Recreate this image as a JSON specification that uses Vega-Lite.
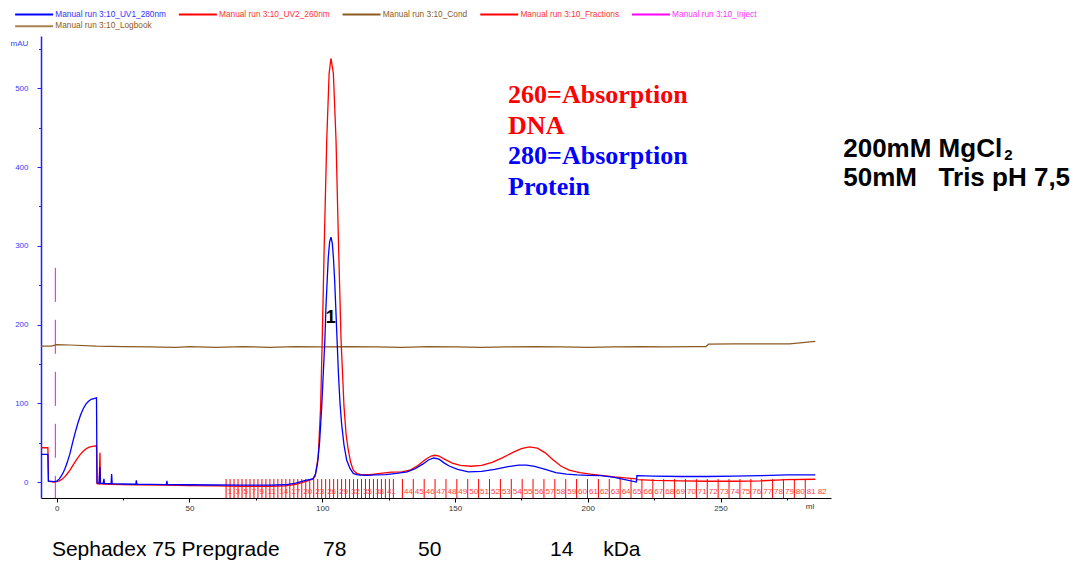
{
  "$schema": "https://vega.github.io/schema/vega-lite/v6.json",
  "width": 790,
  "height": 462,
  "autosize": {"type": "none"},
  "padding": {"left": 41, "top": 36, "right": 250, "bottom": 65},
  "config": {"view": {"stroke": null}, "font": "Liberation Sans",
    "legend": {"title": null, "orient": "none", "legendX": -30, "legendY": -26, "direction": "horizontal", "columns": 5, "symbolType": "M0,0H38", "symbolSize": 4, "symbolStrokeWidth": 2, "labelFontSize": 8.3, "labelFont": "Liberation Sans", "labelOffset": 36, "labelLimit": 300, "columnPadding": 8.7, "rowPadding": 2}
  },
  "datasets": {
    "curves": [
      {"s":"UV1_280nm","x":-5.9,"y":35},{"s":"UV1_280nm","x":-3.3,"y":35},{"s":"UV1_280nm","x":-3.1,"y":1},{"s":"UV1_280nm","x":-1,"y":0.5},{"s":"UV1_280nm","x":0,"y":1},{"s":"UV1_280nm","x":1,"y":4},{"s":"UV1_280nm","x":2,"y":9},{"s":"UV1_280nm","x":3,"y":16},{"s":"UV1_280nm","x":4,"y":25},{"s":"UV1_280nm","x":5,"y":36},{"s":"UV1_280nm","x":6,"y":50},{"s":"UV1_280nm","x":7,"y":63},{"s":"UV1_280nm","x":8,"y":75},{"s":"UV1_280nm","x":9,"y":85},{"s":"UV1_280nm","x":10,"y":93},{"s":"UV1_280nm","x":11,"y":99},{"s":"UV1_280nm","x":12,"y":102.5},{"s":"UV1_280nm","x":13,"y":105},{"s":"UV1_280nm","x":14,"y":106},{"s":"UV1_280nm","x":15,"y":107},{"s":"UV1_280nm","x":15.2,"y":-1},{"s":"UV1_280nm","x":16,"y":-1.5},{"s":"UV1_280nm","x":16.3,"y":19},{"s":"UV1_280nm","x":16.5,"y":-1.5},{"s":"UV1_280nm","x":17.5,"y":-2},{"s":"UV1_280nm","x":17.8,"y":4},{"s":"UV1_280nm","x":18,"y":-2},{"s":"UV1_280nm","x":20.5,"y":-2},{"s":"UV1_280nm","x":20.7,"y":10},{"s":"UV1_280nm","x":20.9,"y":-2},{"s":"UV1_280nm","x":25,"y":-2.5},{"s":"UV1_280nm","x":29.8,"y":-2.8},{"s":"UV1_280nm","x":30,"y":2},{"s":"UV1_280nm","x":30.2,"y":-2.8},{"s":"UV1_280nm","x":35,"y":-3},{"s":"UV1_280nm","x":41.3,"y":-3.2},{"s":"UV1_280nm","x":41.5,"y":1.5},{"s":"UV1_280nm","x":41.7,"y":-3.2},{"s":"UV1_280nm","x":50,"y":-3.5},{"s":"UV1_280nm","x":60,"y":-3.8},{"s":"UV1_280nm","x":70,"y":-4},{"s":"UV1_280nm","x":80,"y":-4},{"s":"UV1_280nm","x":86,"y":-3.5},{"s":"UV1_280nm","x":90,"y":-1.5},{"s":"UV1_280nm","x":93,"y":1.5},{"s":"UV1_280nm","x":95,"y":3},{"s":"UV1_280nm","x":96.5,"y":4},{"s":"UV1_280nm","x":97.5,"y":10},{"s":"UV1_280nm","x":98.2,"y":23},{"s":"UV1_280nm","x":99,"y":50},{"s":"UV1_280nm","x":99.8,"y":95},{"s":"UV1_280nm","x":100.4,"y":138},{"s":"UV1_280nm","x":101,"y":180},{"s":"UV1_280nm","x":101.4,"y":222},{"s":"UV1_280nm","x":102,"y":265},{"s":"UV1_280nm","x":102.3,"y":286},{"s":"UV1_280nm","x":102.8,"y":305},{"s":"UV1_280nm","x":103.3,"y":311},{"s":"UV1_280nm","x":103.8,"y":303},{"s":"UV1_280nm","x":104.2,"y":286},{"s":"UV1_280nm","x":104.7,"y":255},{"s":"UV1_280nm","x":105.1,"y":222},{"s":"UV1_280nm","x":105.6,"y":180},{"s":"UV1_280nm","x":106.1,"y":138},{"s":"UV1_280nm","x":106.7,"y":100},{"s":"UV1_280nm","x":107.3,"y":74},{"s":"UV1_280nm","x":108.2,"y":47},{"s":"UV1_280nm","x":109.2,"y":28},{"s":"UV1_280nm","x":110.5,"y":17},{"s":"UV1_280nm","x":111.7,"y":11},{"s":"UV1_280nm","x":113,"y":9.5},{"s":"UV1_280nm","x":114.2,"y":8.9},{"s":"UV1_280nm","x":117,"y":8.5},{"s":"UV1_280nm","x":120,"y":9},{"s":"UV1_280nm","x":124,"y":9.5},{"s":"UV1_280nm","x":128,"y":11},{"s":"UV1_280nm","x":132,"y":13},{"s":"UV1_280nm","x":135,"y":17},{"s":"UV1_280nm","x":138,"y":23},{"s":"UV1_280nm","x":140,"y":28},{"s":"UV1_280nm","x":142,"y":30.5},{"s":"UV1_280nm","x":144,"y":29},{"s":"UV1_280nm","x":146,"y":24},{"s":"UV1_280nm","x":148,"y":20},{"s":"UV1_280nm","x":151,"y":16},{"s":"UV1_280nm","x":155,"y":13},{"s":"UV1_280nm","x":160,"y":13.5},{"s":"UV1_280nm","x":165,"y":16},{"s":"UV1_280nm","x":170,"y":19.5},{"s":"UV1_280nm","x":174,"y":21.5},{"s":"UV1_280nm","x":177,"y":21.5},{"s":"UV1_280nm","x":180,"y":20},{"s":"UV1_280nm","x":184,"y":16},{"s":"UV1_280nm","x":188,"y":12},{"s":"UV1_280nm","x":192,"y":10},{"s":"UV1_280nm","x":196,"y":9},{"s":"UV1_280nm","x":200,"y":8.5},{"s":"UV1_280nm","x":205,"y":8},{"s":"UV1_280nm","x":210,"y":6},{"s":"UV1_280nm","x":214,"y":3},{"s":"UV1_280nm","x":218.3,"y":0},{"s":"UV1_280nm","x":218.5,"y":8},{"s":"UV1_280nm","x":225,"y":7.5},{"s":"UV1_280nm","x":235,"y":7},{"s":"UV1_280nm","x":245,"y":7},{"s":"UV1_280nm","x":255,"y":7.5},{"s":"UV1_280nm","x":265,"y":8},{"s":"UV1_280nm","x":275,"y":9},{"s":"UV1_280nm","x":285.7,"y":9},
      {"s":"UV2_260nm","x":-5.9,"y":43.5},{"s":"UV2_260nm","x":-3.3,"y":43.5},{"s":"UV2_260nm","x":-3.1,"y":1},{"s":"UV2_260nm","x":-1,"y":0},{"s":"UV2_260nm","x":0,"y":0.5},{"s":"UV2_260nm","x":1,"y":1.5},{"s":"UV2_260nm","x":2,"y":3.5},{"s":"UV2_260nm","x":3,"y":6.5},{"s":"UV2_260nm","x":4,"y":10.5},{"s":"UV2_260nm","x":5,"y":15},{"s":"UV2_260nm","x":6,"y":20.5},{"s":"UV2_260nm","x":7,"y":26},{"s":"UV2_260nm","x":8,"y":31},{"s":"UV2_260nm","x":9,"y":35.5},{"s":"UV2_260nm","x":10,"y":39},{"s":"UV2_260nm","x":11,"y":42},{"s":"UV2_260nm","x":12,"y":44},{"s":"UV2_260nm","x":13,"y":45},{"s":"UV2_260nm","x":14,"y":45.5},{"s":"UV2_260nm","x":15,"y":46},{"s":"UV2_260nm","x":15.2,"y":-2},{"s":"UV2_260nm","x":16,"y":-2.5},{"s":"UV2_260nm","x":16.3,"y":37},{"s":"UV2_260nm","x":16.5,"y":-2.5},{"s":"UV2_260nm","x":20,"y":-3},{"s":"UV2_260nm","x":30,"y":-3.5},{"s":"UV2_260nm","x":40,"y":-4},{"s":"UV2_260nm","x":50,"y":-4.5},{"s":"UV2_260nm","x":60,"y":-5},{"s":"UV2_260nm","x":70,"y":-5.5},{"s":"UV2_260nm","x":80,"y":-5.5},{"s":"UV2_260nm","x":86,"y":-5},{"s":"UV2_260nm","x":90,"y":-3},{"s":"UV2_260nm","x":93,"y":0},{"s":"UV2_260nm","x":95,"y":2},{"s":"UV2_260nm","x":96.5,"y":4},{"s":"UV2_260nm","x":97.3,"y":7},{"s":"UV2_260nm","x":98.5,"y":32},{"s":"UV2_260nm","x":99.4,"y":96},{"s":"UV2_260nm","x":100,"y":180},{"s":"UV2_260nm","x":100.8,"y":307},{"s":"UV2_260nm","x":101.7,"y":434},{"s":"UV2_260nm","x":102.6,"y":519},{"s":"UV2_260nm","x":103.3,"y":538},{"s":"UV2_260nm","x":104.2,"y":519},{"s":"UV2_260nm","x":105.2,"y":434},{"s":"UV2_260nm","x":106.1,"y":307},{"s":"UV2_260nm","x":107.1,"y":180},{"s":"UV2_260nm","x":108.2,"y":96},{"s":"UV2_260nm","x":109,"y":60},{"s":"UV2_260nm","x":109.8,"y":41},{"s":"UV2_260nm","x":110.7,"y":25},{"s":"UV2_260nm","x":111.7,"y":15},{"s":"UV2_260nm","x":113,"y":11},{"s":"UV2_260nm","x":114.2,"y":9.7},{"s":"UV2_260nm","x":118,"y":9.5},{"s":"UV2_260nm","x":122,"y":11},{"s":"UV2_260nm","x":126,"y":12.5},{"s":"UV2_260nm","x":130,"y":13},{"s":"UV2_260nm","x":133,"y":15},{"s":"UV2_260nm","x":136,"y":21},{"s":"UV2_260nm","x":139,"y":29},{"s":"UV2_260nm","x":141,"y":33},{"s":"UV2_260nm","x":142.5,"y":34},{"s":"UV2_260nm","x":144,"y":33},{"s":"UV2_260nm","x":146,"y":29},{"s":"UV2_260nm","x":149,"y":24},{"s":"UV2_260nm","x":152,"y":21},{"s":"UV2_260nm","x":156,"y":20},{"s":"UV2_260nm","x":160,"y":21},{"s":"UV2_260nm","x":164,"y":25},{"s":"UV2_260nm","x":168,"y":31},{"s":"UV2_260nm","x":172,"y":38},{"s":"UV2_260nm","x":175,"y":42.5},{"s":"UV2_260nm","x":178,"y":44.5},{"s":"UV2_260nm","x":181,"y":43},{"s":"UV2_260nm","x":184,"y":37},{"s":"UV2_260nm","x":187,"y":28},{"s":"UV2_260nm","x":190,"y":20},{"s":"UV2_260nm","x":193,"y":15},{"s":"UV2_260nm","x":197,"y":12},{"s":"UV2_260nm","x":201,"y":10},{"s":"UV2_260nm","x":205,"y":8.5},{"s":"UV2_260nm","x":210,"y":6.5},{"s":"UV2_260nm","x":215,"y":5},{"s":"UV2_260nm","x":218.4,"y":4},{"s":"UV2_260nm","x":218.6,"y":3},{"s":"UV2_260nm","x":225,"y":2},{"s":"UV2_260nm","x":235,"y":1.5},{"s":"UV2_260nm","x":245,"y":1},{"s":"UV2_260nm","x":255,"y":1},{"s":"UV2_260nm","x":265,"y":1.5},{"s":"UV2_260nm","x":275,"y":3},{"s":"UV2_260nm","x":285.7,"y":3.5},
      {"s":"Cond","x":-5.9,"y":172.5},{"s":"Cond","x":-2,"y":172.5},{"s":"Cond","x":0,"y":174.5},{"s":"Cond","x":5,"y":174},{"s":"Cond","x":15,"y":172.5},{"s":"Cond","x":25,"y":172},{"s":"Cond","x":35,"y":171.5},{"s":"Cond","x":45,"y":171},{"s":"Cond","x":50,"y":172},{"s":"Cond","x":60,"y":171},{"s":"Cond","x":70,"y":172},{"s":"Cond","x":80,"y":171},{"s":"Cond","x":90,"y":172},{"s":"Cond","x":100,"y":171.5},{"s":"Cond","x":110,"y":172},{"s":"Cond","x":120,"y":171.5},{"s":"Cond","x":130,"y":171},{"s":"Cond","x":140,"y":172},{"s":"Cond","x":150,"y":171.5},{"s":"Cond","x":160,"y":171},{"s":"Cond","x":170,"y":171.5},{"s":"Cond","x":180,"y":172},{"s":"Cond","x":190,"y":171.5},{"s":"Cond","x":200,"y":171},{"s":"Cond","x":210,"y":171.5},{"s":"Cond","x":220,"y":172},{"s":"Cond","x":230,"y":171.5},{"s":"Cond","x":240,"y":172},{"s":"Cond","x":244.5,"y":172},{"s":"Cond","x":245.5,"y":175},{"s":"Cond","x":255,"y":175.3},{"s":"Cond","x":265,"y":175.3},{"s":"Cond","x":276,"y":175.5},{"s":"Cond","x":285.7,"y":178.5}
    ],
    "fractions": [
      {"f":1,"x":63.8,"lbl":"1"},{"f":2,"x":65.3,"lbl":""},{"f":3,"x":66.8,"lbl":"3"},{"f":4,"x":68.3,"lbl":""},{"f":5,"x":69.8,"lbl":"5"},{"f":6,"x":71.3,"lbl":""},{"f":7,"x":72.8,"lbl":"7"},{"f":8,"x":74.3,"lbl":""},{"f":9,"x":75.8,"lbl":"9"},{"f":10,"x":77.3,"lbl":""},{"f":11,"x":78.8,"lbl":"11"},{"f":12,"x":80.3,"lbl":""},{"f":13,"x":81.8,"lbl":""},{"f":14,"x":83.3,"lbl":"14"},{"f":15,"x":84.8,"lbl":""},{"f":16,"x":86.3,"lbl":""},{"f":17,"x":87.8,"lbl":"17"},{"f":18,"x":89.3,"lbl":""},{"f":19,"x":90.8,"lbl":""},{"f":20,"x":92.3,"lbl":"20"},{"f":21,"x":93.8,"lbl":""},{"f":22,"x":95.3,"lbl":""},{"f":23,"x":96.8,"lbl":"23"},{"f":24,"x":98.3,"lbl":""},{"f":25,"x":99.8,"lbl":""},{"f":26,"x":101.3,"lbl":"26"},{"f":27,"x":102.8,"lbl":""},{"f":28,"x":104.3,"lbl":""},{"f":29,"x":105.8,"lbl":"29"},{"f":30,"x":107.3,"lbl":""},{"f":31,"x":108.8,"lbl":""},{"f":32,"x":110.3,"lbl":"32"},{"f":33,"x":111.8,"lbl":""},{"f":34,"x":113.3,"lbl":""},{"f":35,"x":114.8,"lbl":"35"},{"f":36,"x":116.3,"lbl":""},{"f":37,"x":117.8,"lbl":""},{"f":38,"x":119.3,"lbl":"38"},{"f":39,"x":120.8,"lbl":""},{"f":40,"x":122.3,"lbl":""},{"f":41,"x":123.8,"lbl":"41"},{"f":42,"x":125.3,"lbl":""},{"f":43,"x":126.8,"lbl":""},
      {"f":44,"x":130.2,"lbl":"44"},{"f":45,"x":134.3,"lbl":"45"},{"f":46,"x":138.4,"lbl":"46"},{"f":47,"x":142.5,"lbl":"47"},{"f":48,"x":146.6,"lbl":"48"},{"f":49,"x":150.7,"lbl":"49"},{"f":50,"x":154.8,"lbl":"50"},{"f":51,"x":158.9,"lbl":"51"},{"f":52,"x":163.0,"lbl":"52"},{"f":53,"x":167.1,"lbl":"53"},{"f":54,"x":171.2,"lbl":"54"},{"f":55,"x":175.3,"lbl":"55"},{"f":56,"x":179.4,"lbl":"56"},{"f":57,"x":183.5,"lbl":"57"},{"f":58,"x":187.6,"lbl":"58"},{"f":59,"x":191.7,"lbl":"59"},{"f":60,"x":195.8,"lbl":"60"},{"f":61,"x":199.9,"lbl":"61"},{"f":62,"x":204.0,"lbl":"62"},{"f":63,"x":208.1,"lbl":"63"},{"f":64,"x":212.2,"lbl":"64"},{"f":65,"x":216.3,"lbl":"65"},{"f":66,"x":220.4,"lbl":"66"},{"f":67,"x":224.5,"lbl":"67"},{"f":68,"x":228.6,"lbl":"68"},{"f":69,"x":232.7,"lbl":"69"},{"f":70,"x":236.8,"lbl":"70"},{"f":71,"x":240.9,"lbl":"71"},{"f":72,"x":245.0,"lbl":"72"},{"f":73,"x":249.1,"lbl":"73"},{"f":74,"x":253.2,"lbl":"74"},{"f":75,"x":257.3,"lbl":"75"},{"f":76,"x":261.4,"lbl":"76"},{"f":77,"x":265.5,"lbl":"77"},{"f":78,"x":269.6,"lbl":"78"},{"f":79,"x":273.7,"lbl":"79"},{"f":80,"x":277.8,"lbl":"80"},{"f":81,"x":281.9,"lbl":"81"},{"f":82,"x":286.0,"lbl":"82"}
    ],
    "inject": [{"x": -0.5, "top": 272}],
    "notes": [
      {"g":"red","x":170,"y":481.3,"t":"260=Absorption"},
      {"g":"red","x":170,"y":442,"t":"DNA"},
      {"g":"blue","x":170,"y":403.9,"t":"280=Absorption"},
      {"g":"blue","x":170,"y":364.5,"t":"Protein"},
      {"g":"bold","x":296.2,"y":412.7,"t":"200mM MgCl"},
      {"g":"bold","x":296.2,"y":375.9,"t":"50mM\u00a0\u00a0\u00a0Tris pH 7,5"},
      {"g":"sub","x":356.8,"y":409.5,"t":"2"},
      {"g":"peak","x":103.2,"y":208.3,"t":"1"},
      {"g":"foot","x":-1.8,"y":-94,"t":"Sephadex 75 Prepgrade"},
      {"g":"foot","x":100.3,"y":-94,"t":"78"},
      {"g":"foot","x":136.1,"y":-94,"t":"50"},
      {"g":"foot","x":185.8,"y":-94,"t":"14"},
      {"g":"foot","x":205.8,"y":-94,"t":"kDa"}
    ]
  },
  "encoding": {
    "x": {"type": "quantitative", "scale": {"domain": [-5.9, 291.6], "nice": false, "zero": false},
      "axis": {
        "title": null, "grid": false,
        "values": [0,25,50,75,100,125,150,175,200,225,250,275,283.5],
        "labelExpr": "datum.value == 283.5 ? 'ml' : (datum.value % 50 == 0 ? datum.label : '')",
        "format": "d",
        "domainColor": "#000000", "domainWidth": 1, "tickColor": "#000000",
        "tickSize": {"condition": {"test": "datum.value % 50 == 0", "value": 4}, "value": 2},
        "tickOpacity": {"condition": {"test": "datum.value == 283.5", "value": 0}, "value": 1},
        "labelFontSize": 8, "labelColor": "#333333", "labelPadding": 2, "labelFlush": false, "labelOverlap": false, "labelFont": "Liberation Sans"
      }
    },
    "y": {"type": "quantitative", "scale": {"domain": [-20.3, 566.4], "nice": false, "zero": false},
      "axis": {
        "grid": false,
        "values": [0,50,100,150,200,250,300,350,400,450,500,550],
        "labelExpr": "datum.value % 100 == 0 ? datum.label : ''",
        "title": "mAU", "titleAngle": 0, "titleX": -22, "titleY": 7, "titleAlign": "center", "titleBaseline": "middle",
        "titleFontSize": 8, "titleFontWeight": "normal", "titleColor": "#3a3aff", "titleFont": "Liberation Sans",
        "domainColor": "#2020ff", "domainWidth": 1.5, "tickColor": "#2020ff",
        "tickSize": {"condition": {"test": "datum.value % 100 == 0", "value": 4}, "value": 2.5},
        "labelColor": "#3a3aff", "labelFontSize": 8, "labelPadding": 9, "labelOverlap": false, "labelFont": "Liberation Sans"
      }
    }
  },
  "layer": [
    {
      "data": {"name": "fractions"},
      "transform": [{"filter": "datum.f < 82"}],
      "mark": {"type": "rule", "strokeWidth": 1},
      "encoding": {
        "x": {"field": "x", "type": "quantitative"},
        "y": {"datum": -20.3, "type": "quantitative"},
        "y2": {"datum": 3.8},
        "color": {"datum": "Fractions", "type": "nominal",
          "scale": {"domain": ["UV1_280nm","UV2_260nm","Cond","Fractions","Inject","Logbook"], "range": ["#0000ff","#ff0000","#8c5a23","#ff0000","#ff00ff","#a88050"]},
          "legend": {
            "labelExpr": "'Manual run 3:10_' + datum.label",
            "labelColor": {"expr": "datum.value === 'UV1_280nm' ? '#3333ff' : (datum.value === 'Inject' ? '#ff33ff' : ((datum.value === 'Cond' || datum.value === 'Logbook') ? '#8c5a23' : '#ff3333'))"}}
        }
      }
    },
    {
      "data": {"name": "fractions"},
      "mark": {"type": "text", "align": "left", "baseline": "middle", "dx": 1.5, "fontSize": 8, "font": "Liberation Sans", "color": "#ff3c3c"},
      "encoding": {
        "x": {"field": "x", "type": "quantitative"},
        "y": {"datum": -12.5, "type": "quantitative"},
        "text": {"field": "lbl"}
      }
    },
    {
      "data": {"name": "inject"},
      "mark": {"type": "rule", "strokeWidth": 1, "strokeDash": [34, 18]},
      "encoding": {
        "x": {"field": "x", "type": "quantitative"},
        "y": {"field": "top", "type": "quantitative"},
        "y2": {"datum": -20.3},
        "color": {"datum": "Inject", "type": "nominal",
          "scale": {"domain": ["UV1_280nm","UV2_260nm","Cond","Fractions","Inject","Logbook"], "range": ["#0000ff","#ff0000","#8c5a23","#ff0000","#ff00ff","#a88050"]},
          "legend": {
            "labelExpr": "'Manual run 3:10_' + datum.label",
            "labelColor": {"expr": "datum.value === 'UV1_280nm' ? '#3333ff' : (datum.value === 'Inject' ? '#ff33ff' : ((datum.value === 'Cond' || datum.value === 'Logbook') ? '#8c5a23' : '#ff3333'))"}}
        }
      }
    },
    {
      "data": {"name": "curves"},
      "transform": [{"filter": "datum.s === 'Cond'"}],
      "mark": {"type": "line", "strokeWidth": 1.2},
      "encoding": {
        "x": {"field": "x", "type": "quantitative"},
        "y": {"field": "y", "type": "quantitative"},
        "color": {"field": "s", "type": "nominal",
          "scale": {"domain": ["UV1_280nm","UV2_260nm","Cond","Fractions","Inject","Logbook"], "range": ["#0000ff","#ff0000","#8c5a23","#ff0000","#ff00ff","#a88050"]},
          "legend": {
            "labelExpr": "'Manual run 3:10_' + datum.label",
            "labelColor": {"expr": "datum.value === 'UV1_280nm' ? '#3333ff' : (datum.value === 'Inject' ? '#ff33ff' : ((datum.value === 'Cond' || datum.value === 'Logbook') ? '#8c5a23' : '#ff3333'))"}}
        }
      }
    },
    {
      "data": {"name": "curves"},
      "transform": [{"filter": "datum.s === 'UV2_260nm'"}],
      "mark": {"type": "line", "strokeWidth": 1.3},
      "encoding": {
        "x": {"field": "x", "type": "quantitative"},
        "y": {"field": "y", "type": "quantitative"},
        "color": {"field": "s", "type": "nominal",
          "scale": {"domain": ["UV1_280nm","UV2_260nm","Cond","Fractions","Inject","Logbook"], "range": ["#0000ff","#ff0000","#8c5a23","#ff0000","#ff00ff","#a88050"]},
          "legend": {
            "labelExpr": "'Manual run 3:10_' + datum.label",
            "labelColor": {"expr": "datum.value === 'UV1_280nm' ? '#3333ff' : (datum.value === 'Inject' ? '#ff33ff' : ((datum.value === 'Cond' || datum.value === 'Logbook') ? '#8c5a23' : '#ff3333'))"}}
        }
      }
    },
    {
      "data": {"name": "curves"},
      "transform": [{"filter": "datum.s === 'UV1_280nm'"}],
      "mark": {"type": "line", "strokeWidth": 1.3},
      "encoding": {
        "x": {"field": "x", "type": "quantitative"},
        "y": {"field": "y", "type": "quantitative"},
        "color": {"field": "s", "type": "nominal",
          "scale": {"domain": ["UV1_280nm","UV2_260nm","Cond","Fractions","Inject","Logbook"], "range": ["#0000ff","#ff0000","#8c5a23","#ff0000","#ff00ff","#a88050"]},
          "legend": {
            "labelExpr": "'Manual run 3:10_' + datum.label",
            "labelColor": {"expr": "datum.value === 'UV1_280nm' ? '#3333ff' : (datum.value === 'Inject' ? '#ff33ff' : ((datum.value === 'Cond' || datum.value === 'Logbook') ? '#8c5a23' : '#ff3333'))"}}
        }
      }
    },
    {
      "data": {"name": "notes"},
      "transform": [{"filter": "datum.g === 'red'"}],
      "mark": {"type": "text", "align": "left", "baseline": "alphabetic", "font": "Liberation Serif", "fontWeight": "bold", "fontSize": 26, "color": "#ff0000"},
      "encoding": {"x": {"field": "x", "type": "quantitative"}, "y": {"field": "y", "type": "quantitative"}, "text": {"field": "t"}}
    },
    {
      "data": {"name": "notes"},
      "transform": [{"filter": "datum.g === 'blue'"}],
      "mark": {"type": "text", "align": "left", "baseline": "alphabetic", "font": "Liberation Serif", "fontWeight": "bold", "fontSize": 26, "color": "#0000ff"},
      "encoding": {"x": {"field": "x", "type": "quantitative"}, "y": {"field": "y", "type": "quantitative"}, "text": {"field": "t"}}
    },
    {
      "data": {"name": "notes"},
      "transform": [{"filter": "datum.g === 'bold'"}],
      "mark": {"type": "text", "align": "left", "baseline": "alphabetic", "font": "Liberation Sans", "fontWeight": "bold", "fontSize": 26, "color": "#000000"},
      "encoding": {"x": {"field": "x", "type": "quantitative"}, "y": {"field": "y", "type": "quantitative"}, "text": {"field": "t"}}
    },
    {
      "data": {"name": "notes"},
      "transform": [{"filter": "datum.g === 'sub'"}],
      "mark": {"type": "text", "align": "left", "baseline": "alphabetic", "font": "Liberation Sans", "fontWeight": "bold", "fontSize": 15, "color": "#000000"},
      "encoding": {"x": {"field": "x", "type": "quantitative"}, "y": {"field": "y", "type": "quantitative"}, "text": {"field": "t"}}
    },
    {
      "data": {"name": "notes"},
      "transform": [{"filter": "datum.g === 'peak'"}],
      "mark": {"type": "text", "align": "center", "baseline": "middle", "font": "Liberation Sans", "fontWeight": "bold", "fontSize": 18, "color": "#000000"},
      "encoding": {"x": {"field": "x", "type": "quantitative"}, "y": {"field": "y", "type": "quantitative"}, "text": {"field": "t"}}
    },
    {
      "data": {"name": "notes"},
      "transform": [{"filter": "datum.g === 'foot'"}],
      "mark": {"type": "text", "align": "left", "baseline": "alphabetic", "font": "Liberation Sans", "fontSize": 21, "color": "#000000"},
      "encoding": {"x": {"field": "x", "type": "quantitative"}, "y": {"field": "y", "type": "quantitative"}, "text": {"field": "t"}}
    }
  ]
}
